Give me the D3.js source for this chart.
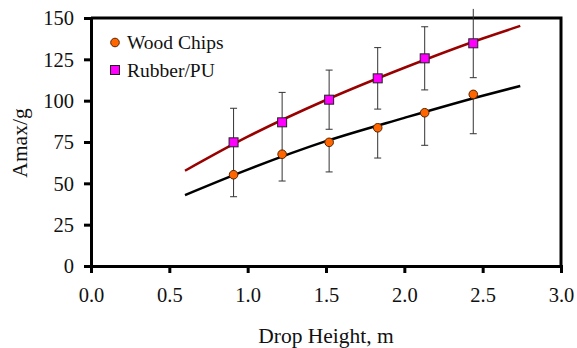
<!DOCTYPE html>
<html>
<head>
<meta charset="utf-8">
<script src="https://cdn.jsdelivr.net/npm/d3@7"></script>
<style>
  body { margin: 0; background: #fff; }
  svg text { font-family: "Liberation Serif", "Times New Roman", serif; fill: #111; }
</style>
</head>
<body>
<div id="chart"></div>
<script>
// drop heights (m)
const heights = [0.91, 1.22, 1.52, 1.83, 2.13, 2.44];

// measured peak deceleration (wood: minus bars only, rubber: both ways)
const woodChips = [55.2, 67.6, 74.8, 83.6, 92.7, 103.8];
const woodErr = [13.3, 16.2, 17.9, 18.3, 19.7, 23.8];
const rubberPU = [74.8, 86.9, 100.6, 113.5, 125.6, 134.7];
const rubberErr = [20.6, 18.1, 17.9, 18.6, 19.1, 20.8];

// fitted trend lines
const fitX = [0.6, 1.0, 1.5, 2.0, 2.5, 2.74];
const woodFit = [42.9, 58.3, 75.5, 89.6, 103, 108.9];
const rubberFit = [57.6, 78.2, 100.4, 119.9, 137.6, 145.2];

const xTicks = [0, 0.5, 1, 1.5, 2, 2.5, 3];
const yTicks = [0, 25, 50, 75, 100, 125, 150];

const width = 577, height = 348;
const margin = { top: 18, right: 16, bottom: 82, left: 91 };
const plotW = width - margin.left - margin.right;
const plotH = height - margin.top - margin.bottom;

const svg = d3.select('#chart')
  .append('svg')
  .attr('width', width)
  .attr('height', height);

const x = d3.scaleLinear().domain([0, 3]).range([margin.left, margin.left + plotW]);
const y = d3.scaleLinear().domain([0, 150]).range([margin.top + plotH, margin.top]);

// frame (top and right)
svg.append('path')
  .attr('d', `M${x(0)},${y(150)} H${x(3)} V${y(0)}`)
  .attr('fill', 'none')
  .attr('stroke', '#000')
  .attr('stroke-width', 3);

// axes
const xAxis = svg.append('g')
  .attr('transform', `translate(0,${y(0)})`)
  .call(d3.axisBottom(x).tickValues(xTicks).tickFormat(d3.format('.1f')).tickSizeOuter(0).tickSize(7).tickPadding(14));
const yAxis = svg.append('g')
  .attr('transform', `translate(${x(0)},0)`)
  .call(d3.axisLeft(y).tickValues(yTicks).tickSizeOuter(0).tickSize(7).tickPadding(10));

[xAxis, yAxis].forEach(g => {
  g.select('.domain').attr('stroke', '#000').attr('stroke-width', 3);
  g.selectAll('.tick line').attr('stroke', '#000').attr('stroke-width', 3);
  g.selectAll('.tick text')
    .attr('font-family', '"Liberation Serif", serif')
    .attr('font-size', '20.5px')
    .attr('fill', '#111');
});
yAxis.selectAll('.tick text').attr('dy', '0.34em');

// axis titles
svg.append('text')
  .attr('x', (x(0) + x(3)) / 2)
  .attr('y', 343)
  .attr('text-anchor', 'middle')
  .attr('font-size', '21.5px')
  .text('Drop Height, m');

svg.append('text')
  .attr('transform', `translate(27,143) rotate(-90)`)
  .attr('text-anchor', 'middle')
  .attr('font-size', '21.5px')
  .text('Amax/g');

// trend lines
const line = d3.line()
  .x(d => x(d[0]))
  .y(d => y(d[1]))
  .curve(d3.curveMonotoneX);

svg.append('path')
  .datum(fitX.map((v, i) => [v, woodFit[i]]))
  .attr('d', line)
  .attr('fill', 'none')
  .attr('stroke', '#000')
  .attr('stroke-width', 2.5);

svg.append('path')
  .datum(fitX.map((v, i) => [v, rubberFit[i]]))
  .attr('d', line)
  .attr('fill', 'none')
  .attr('stroke', '#990000')
  .attr('stroke-width', 2.5);

// error bars
const drawErr = (vals, errs, upper) => {
  const g = svg.append('g').attr('stroke', '#333').attr('stroke-width', 1);
  heights.forEach((h, i) => {
    const lo = vals[i] - errs[i], hi = upper ? vals[i] + errs[i] : vals[i];
    g.append('line')
      .attr('x1', x(h)).attr('x2', x(h))
      .attr('y1', y(lo)).attr('y2', y(hi));
    const caps = upper ? [lo, hi] : [lo];
    caps.forEach(v => {
      if (v > 150) return;
      g.append('line')
        .attr('x1', x(h) - 3.5).attr('x2', x(h) + 3.5)
        .attr('y1', y(v)).attr('y2', y(v));
    });
  });
};
drawErr(woodChips, woodErr, false);
drawErr(rubberPU, rubberErr, true);

// markers
svg.append('g')
  .selectAll('circle')
  .data(woodChips)
  .enter()
  .append('circle')
  .attr('cx', (d, i) => x(heights[i]))
  .attr('cy', d => y(d))
  .attr('r', 4.3)
  .attr('fill', '#ff6600')
  .attr('stroke', '#552200')
  .attr('stroke-width', 1);

svg.append('g')
  .selectAll('rect')
  .data(rubberPU)
  .enter()
  .append('rect')
  .attr('x', (d, i) => x(heights[i]) - 4.5)
  .attr('y', d => y(d) - 4.5)
  .attr('width', 9)
  .attr('height', 9)
  .attr('fill', '#ff00ff')
  .attr('stroke', '#222')
  .attr('stroke-width', 1);

// legend
const legend = svg.append('g');
legend.append('circle')
  .attr('cx', 115).attr('cy', 42.5).attr('r', 4.3)
  .attr('fill', '#ff6600').attr('stroke', '#552200');
legend.append('text')
  .attr('x', 127).attr('y', 49)
  .attr('font-size', '19.5px')
  .text('Wood Chips');
legend.append('rect')
  .attr('x', 110.5).attr('y', 65.5).attr('width', 9).attr('height', 9)
  .attr('fill', '#ff00ff').attr('stroke', '#222');
legend.append('text')
  .attr('x', 127).attr('y', 77)
  .attr('font-size', '19.5px')
  .text('Rubber/PU');
</script>
</body>
</html>
